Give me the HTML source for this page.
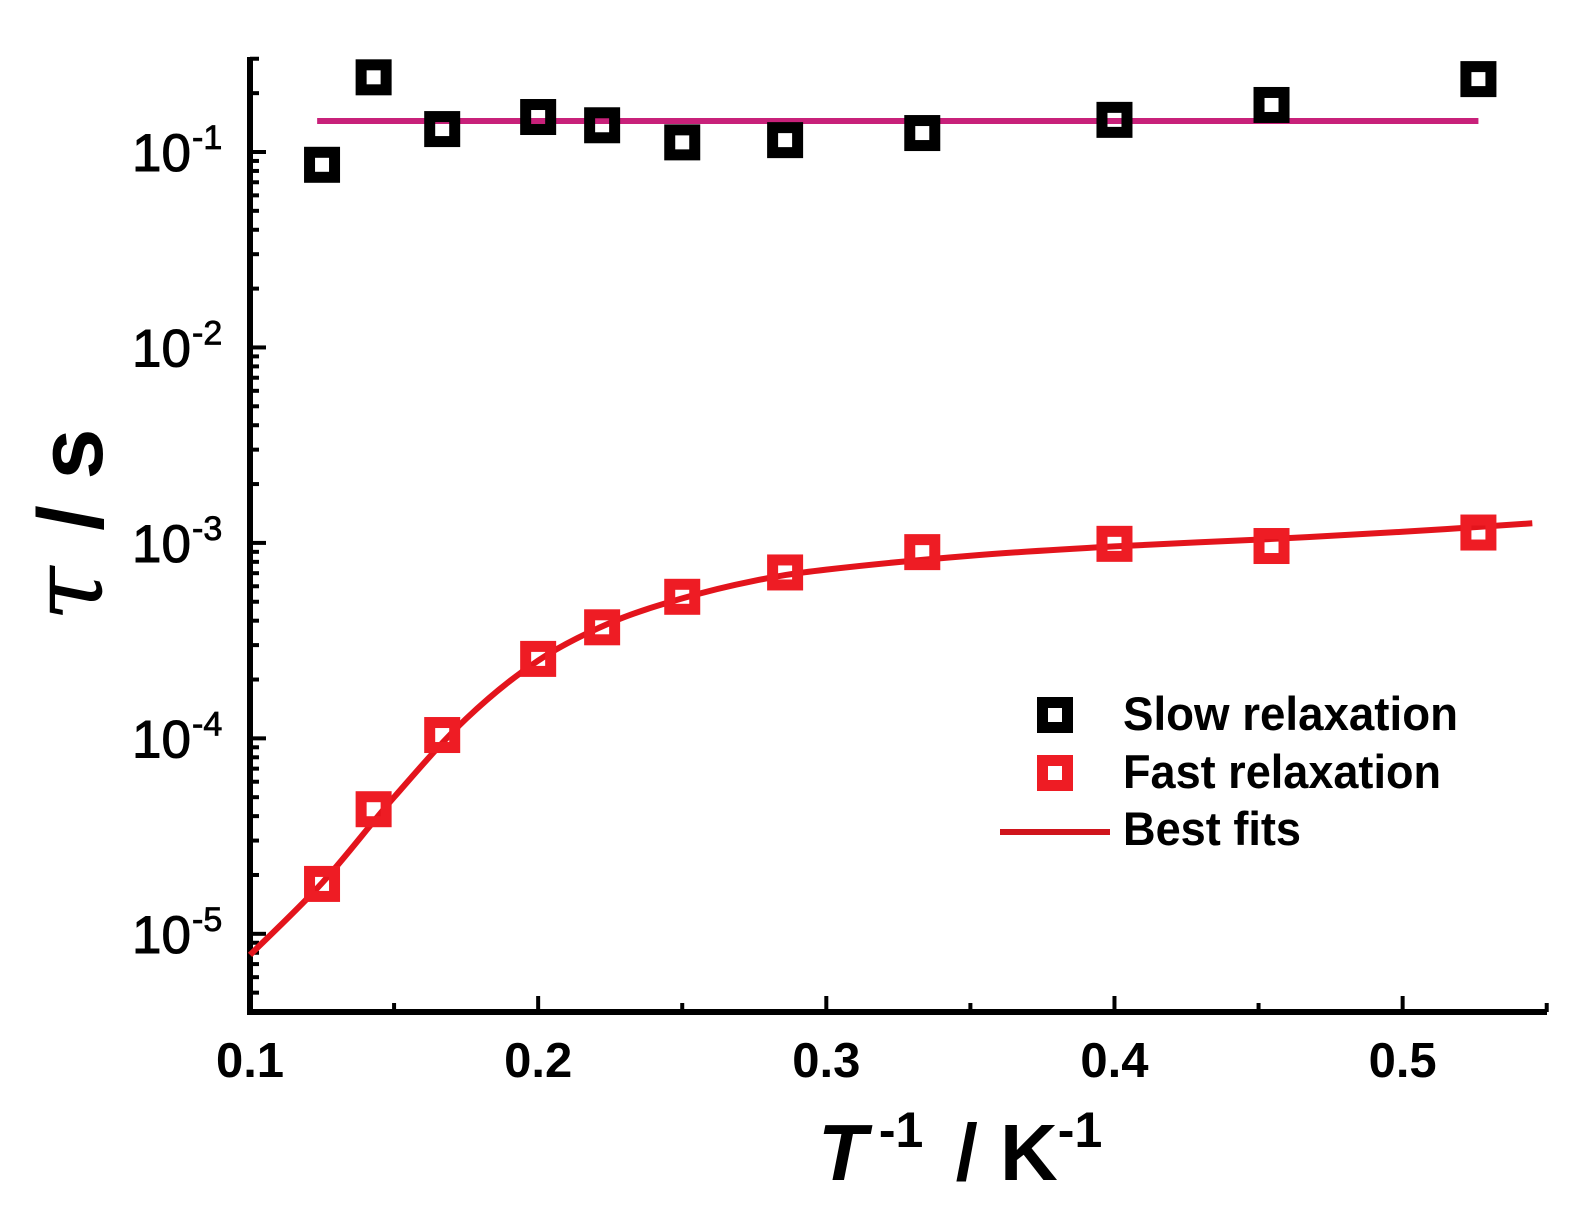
<!DOCTYPE html>
<html><head><meta charset="utf-8"><style>
html,body{margin:0;padding:0;background:#fff;}
svg{display:block;font-family:"Liberation Sans",Arial,sans-serif;}
</style></head><body>
<svg id="chart" width="1593" height="1211" viewBox="0 0 1593 1211" xmlns="http://www.w3.org/2000/svg">
</svg>
<script>
const slowX = [0.125,0.1429,0.1667,0.2,0.2222,0.25,0.2857,0.3333,0.4,0.4545,0.5263];
const slowY = [0.086,0.241,0.131,0.151,0.137,0.112,0.115,0.125,0.146,0.174,0.236];
const fastX = [0.125,0.1429,0.1667,0.2,0.2222,0.25,0.2857,0.3333,0.4,0.4545,0.5263];
const fastY = [1.80e-5,4.34e-5,1.04e-4,2.55e-4,3.70e-4,5.30e-4,7.06e-4,8.97e-4,9.89e-4,9.64e-4,1.13e-3];
const fitSlowX = [0.1233,0.5263];
const fitSlowY = [0.144,0.144];
const fitFastX = [0.1,0.125,0.15,0.175,0.2,0.225,0.25,0.275,0.3,0.35,0.4,0.45,0.5,0.545];
const fitFastY = [7.8e-6,1.82e-5,5.0e-5,1.26e-4,2.5e-4,3.9e-4,5.2e-4,6.4e-4,7.3e-4,8.6e-4,9.6e-4,1.04e-3,1.14e-3,1.26e-3];
const xTicks = [0.1,0.2,0.3,0.4,0.5];
const xTickLabels = ["0.1","0.2","0.3","0.4","0.5"];
const yDecades = [-1,-2,-3,-4,-5];
const yTickLabels = ["-1","-2","-3","-4","-5"];

const NS="http://www.w3.org/2000/svg";
const svg=document.getElementById('chart');
const X0=250, X1=1547, xmin=0.1, xmax=0.5501;
const Y0=1012, Y1=57, lmin=-5.40, lmax=-0.514;
const sx=v=>X0+(v-xmin)/(xmax-xmin)*(X1-X0);
const sy=v=>Y0-(Math.log10(v)-lmin)/(lmax-lmin)*(Y0-Y1);
function mk(tag,attrs,parent){const e=document.createElementNS(NS,tag);for(const k in attrs)e.setAttribute(k,attrs[k]);(parent||svg).appendChild(e);return e;}

const axes=mk('g',{});


const yl=mk('line',{x1:X0,y1:Y1,x2:X0,y2:Y0+3,stroke:'#000','stroke-width':6},axes);


const xl=mk('line',{x1:X0-3,y1:Y0,x2:X1,y2:Y0,stroke:'#000','stroke-width':6},axes);



for(let v=0.1;v<=0.5501;v+=0.05){
  const major=Math.abs(Math.round(v*10)-v*10)<1e-6;
  const t=mk('line',{x1:sx(v),y1:Y0,x2:sx(v),y2:Y0-(major?16:9),stroke:'#000','stroke-width':4},axes);
  
  
}
xTicks.forEach((v,i)=>{
  const t=mk('text',{x:sx(v),y:1077,'text-anchor':'middle','font-size':49,'font-weight':'bold',fill:'#000'},axes);
  t.textContent=xTickLabels[i];
  
  
});
for(let d=-6;d<=0;d++){
  for(let m=1;m<=9;m++){
    const v=m*Math.pow(10,d);const lv=Math.log10(v);
    if(lv<lmin-1e-6||lv>lmax+0.01)continue;
    const t=mk('line',{x1:X0,y1:sy(v),x2:X0+(m===1?16:9),y2:sy(v),stroke:'#000','stroke-width':4},axes);
    
    
  }
}
yDecades.forEach((d,i)=>{
  const t=mk('text',{x:191,y:sy(Math.pow(10,d))+19,'text-anchor':'end','font-size':53,fill:'#000',stroke:'#000','stroke-width':1},axes);
  t.textContent='10';
  
  
  const s=mk('text',{x:192,y:sy(Math.pow(10,d))-3,'text-anchor':'start','font-size':34,fill:'#000',stroke:'#000','stroke-width':0.8},axes);
  s.textContent=yTickLabels[i];
  
  
});

const xt=mk('text',{x:818,y:1180,'font-size':80,'font-weight':'bold',fill:'#000'});


xt.innerHTML='<tspan font-style="italic">T</tspan><tspan font-size="50" dy="-33" dx="12">-1</tspan><tspan dy="33" dx="10"> / K</tspan><tspan font-size="50" dy="-33">-1</tspan>';
const yt=mk('text',{x:0,y:0,'font-size':92,'font-weight':'bold',fill:'#000','text-anchor':'middle',transform:'translate(102,525) rotate(-90)'});


yt.innerHTML='<tspan font-style="italic" font-weight="normal" font-family="DejaVu Serif" font-size="100">τ</tspan> <tspan dx="10">/ s</tspan>';

function curvePath(xs,ys){
  const p=xs.map((x,i)=>[sx(x),sy(ys[i])]);
  let d='M'+p[0][0]+','+p[0][1];
  for(let i=0;i<p.length-1;i++){
    const p0=p[i-1]||p[i],p1=p[i],p2=p[i+1],p3=p[i+2]||p2;
    const c1=[p1[0]+(p2[0]-p0[0])/6,p1[1]+(p2[1]-p0[1])/6];
    const c2=[p2[0]-(p3[0]-p1[0])/6,p2[1]-(p3[1]-p1[1])/6];
    d+=' C'+c1+' '+c2+' '+p2;
  }
  return d;
}
const fs=mk('path',{d:curvePath(fitSlowX,fitSlowY),stroke:'#c8217a',fill:'none','stroke-width':6});


const ff=mk('path',{d:curvePath(fitFastX,fitFastY),stroke:'#e3141c',fill:'none','stroke-width':6});



function marker(cx,cy,col,name){
  const r=mk('rect',{x:cx-12.5,y:cy-12.5,width:25,height:25,fill:'none',stroke:col,'stroke-width':11});
  
  
  return r;
}
slowX.forEach((x,i)=>marker(sx(x),sy(slowY[i]),'#000','slow-point'));
fastX.forEach((x,i)=>marker(sx(x),sy(fastY[i]),'#ee1c24','fast-point'));

const lg=mk('g',{});


marker(1055,715,'#000','legend-slow-marker');
marker(1055,773,'#ee1c24','legend-fast-marker');
const ll=mk('line',{x1:1000,y1:832,x2:1110,y2:832,stroke:'#d0141c','stroke-width':6},lg);


[['Slow relaxation',730,335],['Fast relaxation',788,318],['Best fits',845,178]].forEach(a=>{
  const t=mk('text',{x:1123,y:a[1],'font-size':47,'font-weight':'bold',fill:'#000',textLength:a[2],lengthAdjust:'spacingAndGlyphs'},lg);
  t.textContent=a[0];
  
  
});
</script>
</body></html>
